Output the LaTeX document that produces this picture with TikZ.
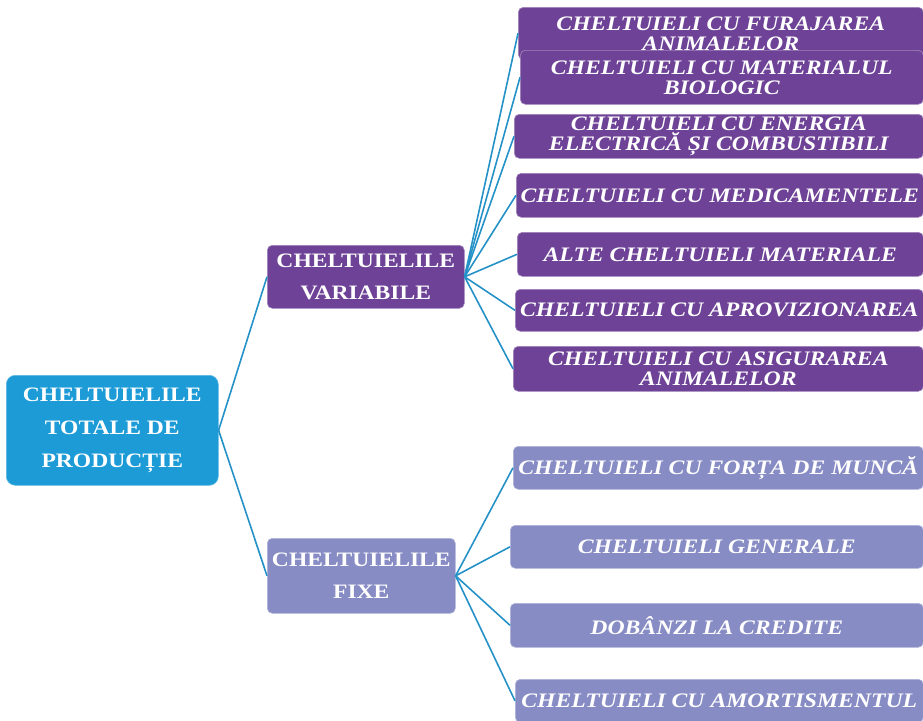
\documentclass[tikz,border=0pt]{standalone}
\usepackage{fontspec}
\setmainfont{Liberation Serif}[FakeStretch=1.15]
\definecolor{rootc}{HTML}{1C9BD7}
\definecolor{purp}{HTML}{6E4397}
\definecolor{lav}{HTML}{878CC4}
\definecolor{linec}{HTML}{2592C7}
\tikzset{
  box/.style={rectangle, rounded corners=5pt, inner sep=0pt, anchor=north west, align=center, text=white},
  rootbox/.style={box, fill=rootc, draw=rootc!70!white, line width=0.6pt, rounded corners=9pt,
     font=\fontsize{20.5}{33}\selectfont\bfseries},
  midbox/.style={box, line width=0.6pt, font=\fontsize{20.5}{32}\selectfont\bfseries},
  leaf/.style={box, line width=0.6pt, font=\fontsize{20.6}{20}\selectfont\bfseries\itshape},
  vleaf/.style={leaf, fill=purp, draw=purp!65!white},
  fleaf/.style={leaf, fill=lav, draw=lav!65!white},
  conn/.style={draw=linec, line width=1.6pt}
}
\begin{document}
\begin{tikzpicture}[x=1pt,y=-1pt]
\useasboundingbox (0,0) rectangle (923,720);
\begin{scope}
\clip (0,0) rectangle (923,720);
% root and middle nodes
\node[rootbox, minimum width=212pt, minimum height=110pt] (root) at (6,375) {CHELTUIELILE\\TOTALE DE\\PRODUCȚIE};
\node[midbox, fill=purp, draw=purp!65!white, minimum width=197pt, minimum height=63pt] (var) at (267,245) {CHELTUIELILE\\VARIABILE};
\node[midbox, fill=lav, draw=lav!65!white, minimum width=188pt, minimum height=75pt] (fix) at (267,538) {CHELTUIELILE\\FIXE};
% variable cost leaves
\node[vleaf, minimum width=405pt, minimum height=52pt] (v1) at (518,7) {CHELTUIELI CU FURAJAREA\\ANIMALELOR};
\node[vleaf, minimum width=403pt, minimum height=54pt] (v2) at (520,50) {CHELTUIELI CU MATERIALUL\\BIOLOGIC};
\node[vleaf, minimum width=409pt, minimum height=44pt] (v3) at (514,114) {CHELTUIELI CU ENERGIA\\ELECTRICĂ ȘI COMBUSTIBILI};
\node[vleaf, minimum width=407pt, minimum height=44pt] (v4) at (516,173) {CHELTUIELI CU MEDICAMENTELE};
\node[vleaf, minimum width=406pt, minimum height=44pt] (v5) at (517,232) {ALTE CHELTUIELI MATERIALE};
\node[vleaf, minimum width=408pt, minimum height=42pt] (v6) at (515,289) {CHELTUIELI CU APROVIZIONAREA};
\node[vleaf, minimum width=410pt, minimum height=45pt] (v7) at (513,346) {CHELTUIELI CU ASIGURAREA\\ANIMALELOR};
% fixed cost leaves
\node[fleaf, minimum width=410pt, minimum height=43pt] (f1) at (513,446) {CHELTUIELI CU FORȚA DE MUNCĂ};
\node[fleaf, minimum width=413pt, minimum height=43pt] (f2) at (510,525) {CHELTUIELI GENERALE};
\node[fleaf, minimum width=413pt, minimum height=44pt] (f3) at (510,603) {DOBÂNZI LA CREDITE};
\node[fleaf, minimum width=408pt, minimum height=43pt] (f4) at (515,679) {CHELTUIELI CU AMORTISMENTUL};
% connectors
\draw[conn] (root.east) -- (var.west);
\draw[conn] (root.east) -- (fix.west);
\foreach \t in {v1,v2,v3,v4,v5,v6,v7} \draw[conn] (var.east) -- (\t.west);
\foreach \t in {f1,f2,f3,f4} \draw[conn] (fix.east) -- (\t.west);
\end{scope}
\end{tikzpicture}
\end{document}
